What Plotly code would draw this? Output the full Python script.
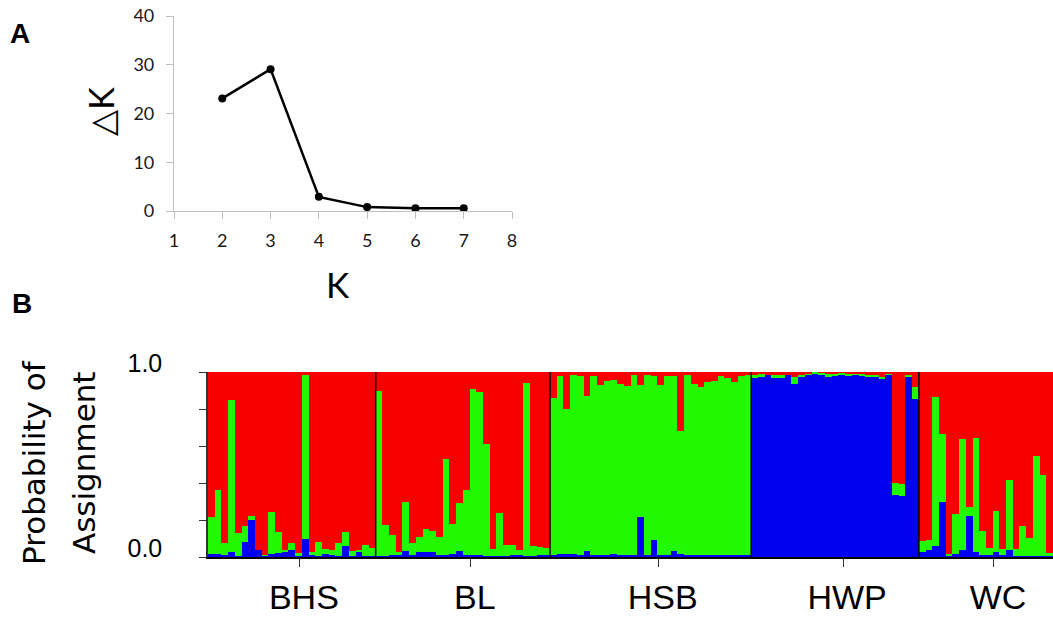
import plotly.graph_objects as go

# ---------------- Panel A data ----------------
k_values = [2, 3, 4, 5, 6, 7]
delta_k = [23.1, 29.1, 2.9, 0.8, 0.55, 0.55]

# ---------------- Panel B data ----------------
populations = ["BHS", "BL", "HSB", "HWP", "WC"]

bhs_blue = [0.018, 0.015, 0.013, 0.025, 0.005, 0.08, 0.20, 0.036, 0.01, 0.018, 0.02, 0.025, 0.04,
            0.01, 0.10, 0.01, 0.007, 0.014, 0.01, 0.007, 0.058, 0.004, 0.03, 0.004, 0.005]
bhs_green = [0.20, 0.345, 0.063, 0.825, 0.125, 0.086, 0.02, 0.0, 0.002, 0.227, 0.117, 0.011, 0.034,
             0.01, 0.885, 0.015, 0.073, 0.029, 0.03, 0.067, 0.079, 0.026, 0.01, 0.063, 0.045]

bl_blue = [0.008, 0.008, 0.01, 0.01, 0.03, 0.01, 0.025, 0.025, 0.025, 0.01, 0.012, 0.015, 0.03,
           0.01, 0.01, 0.01, 0.005, 0.005, 0.005, 0.008, 0.012, 0.01, 0.008, 0.005, 0.012, 0.01]
bl_green = [0.892, 0.167, 0.107, 0.015, 0.27, 0.066, 0.081, 0.125, 0.114, 0.098, 0.518, 0.165, 0.26,
            0.35, 0.90, 0.88, 0.605, 0.038, 0.235, 0.055, 0.055, 0.03, 0.932, 0.053, 0.04, 0.04]

hsb_blue = [0.012, 0.015, 0.015, 0.015, 0.012, 0.03, 0.01, 0.01, 0.012, 0.015, 0.01, 0.012, 0.01,
            0.216, 0.01, 0.094, 0.01, 0.01, 0.03, 0.015, 0.012, 0.01, 0.01, 0.012, 0.01, 0.01,
            0.012, 0.01, 0.01, 0.012]
hsb_green = [0.848, 0.965, 0.785, 0.97, 0.968, 0.84, 0.97, 0.92, 0.938, 0.94, 0.927, 0.911, 0.972,
             0.714, 0.975, 0.883, 0.92, 0.967, 0.947, 0.665, 0.97, 0.927, 0.91, 0.932, 0.943, 0.97,
             0.958, 0.934, 0.97, 0.973]

hwp_blue = [0.965, 0.975, 0.985, 0.965, 0.965, 0.985, 0.935, 0.975, 0.985, 0.99, 0.985, 0.975, 0.98,
            0.985, 0.98, 0.985, 0.98, 0.975, 0.975, 0.96, 0.985, 0.337, 0.328, 0.975, 0.854]
hwp_green = [0.02, 0.015, 0.0, 0.02, 0.02, 0.0, 0.04, 0.01, 0.005, 0.01, 0.01, 0.015, 0.01,
             0.01, 0.01, 0.005, 0.01, 0.01, 0.01, 0.015, 0.005, 0.063, 0.068, 0.01, 0.065]

wc_blue = [0.025, 0.036, 0.061, 0.295, 0.01, 0.018, 0.04, 0.223, 0.025, 0.012, 0.012, 0.025, 0.012,
           0.04, 0.007, 0.007, 0.007, 0.007, 0.007, 0.007]
wc_green = [0.063, 0.058, 0.804, 0.372, 0.008, 0.212, 0.598, 0.047, 0.618, 0.127, 0.035, 0.225, 0.031,
            0.374, 0.036, 0.159, 0.096, 0.537, 0.438, 0.013]

blue_by_pop = [bhs_blue, bl_blue, hsb_blue, hwp_blue, wc_blue]
green_by_pop = [bhs_green, bl_green, hsb_green, hwp_green, wc_green]

blue = [v for lst in blue_by_pop for v in lst]
green = [v for lst in green_by_pop for v in lst]
red = [round(max(0.0, 1 - b - g), 4) for b, g in zip(blue, green)]
idx = list(range(len(blue)))

sizes = [len(l) for l in blue_by_pop]
starts = []
s = 0
for n in sizes:
    starts.append(s)
    s += n
TICK_OFFSET = 1.2  # ticks sit slightly right of each group's centre in the original
tick_pos = [st + n / 2 - 0.5 + TICK_OFFSET for st, n in zip(starts, sizes)]
bounds = [st - 0.5 for st in starts[1:]]

W, H = 1053, 617
RED, GREEN, BLUE = "#f80000", "#22f800", "#0000ee"

fig = go.Figure()

# Panel A
fig.add_trace(go.Scatter(x=k_values, y=delta_k, mode="lines+markers",
                         line=dict(color="black", width=2.5),
                         marker=dict(color="black", size=8),
                         xaxis="x", yaxis="y", showlegend=False))

# Panel B stacked bars
for vals, col in [(blue, BLUE), (green, GREEN), (red, RED)]:
    fig.add_trace(go.Bar(x=idx, y=vals, marker=dict(color=col, line=dict(width=0)),
                         xaxis="x2", yaxis="y2", showlegend=False))

def px(x):
    return x / W

def py(y):
    return 1 - y / H

shapes = []
for b in bounds:
    shapes.append(dict(type="line", xref="x2", yref="y2", x0=b, x1=b, y0=0, y1=1,
                       line=dict(color="black", width=1.5)))

annotations = [
    dict(text="<b>A</b>", x=px(20), y=py(33), font=dict(size=28, family="Liberation Sans", color="black")),
    dict(text="<b>B</b>", x=px(22), y=py(303), font=dict(size=28, family="Liberation Sans", color="black")),
    dict(text="△K", x=px(100), y=py(112), textangle=-90,
         font=dict(size=34, family="Lato, DejaVu Sans", color="black")),
    dict(text="K", x=px(338), y=py(284), font=dict(size=35, family="Lato", color="black")),
    dict(text="Probability of", x=px(34), y=py(463), textangle=-90,
         font=dict(size=31, family="DejaVu Sans", color="black")),
    dict(text="Assignment", x=px(84), y=py(463), textangle=-90,
         font=dict(size=31, family="DejaVu Sans", color="black")),
]
for a in annotations:
    a.update(xref="paper", yref="paper", showarrow=False, xanchor="center", yanchor="middle")

common = dict(showgrid=False, zeroline=False, automargin=False)

fig.update_layout(
    width=W, height=H,
    margin=dict(l=0, r=0, t=0, b=0, autoexpand=False),
    paper_bgcolor="white", plot_bgcolor="white",
    font=dict(family="Liberation Sans, Arial", color="black"),
    barmode="stack", bargap=0,
    xaxis=dict(domain=[px(174), px(512)], range=[1, 8], tickvals=list(range(1, 9)),
               showline=True, linecolor="#bfbfbf", linewidth=1.2,
               ticks="outside", ticklen=7, tickcolor="#bfbfbf", tickwidth=1.2, anchor="y",
               tickfont=dict(family="Lato", size=18, color="#1a1a1a"), ticklabelstandoff=6, **common),
    yaxis=dict(domain=[py(211), py(16)], range=[0, 40], tickvals=[0, 10, 20, 30, 40],
               showline=True, linecolor="#bfbfbf", linewidth=1.2,
               ticks="outside", ticklen=7, tickcolor="#bfbfbf", tickwidth=1.2, anchor="x",
               tickfont=dict(family="Lato", size=18, color="#1a1a1a"), ticklabelstandoff=8, **common),
    xaxis2=dict(domain=[px(208), 1.0], range=[-0.5, len(idx) - 0.5],
                tickvals=tick_pos, ticktext=populations,
                showline=True, linecolor="black", linewidth=1.5,
                ticks="outside", ticklen=8, tickcolor="#333", tickwidth=1.2, anchor="y2",
                tickfont=dict(family="Liberation Sans", size=34, color="black"),
                ticklabelstandoff=1, ticklabelshift=4, **common),
    yaxis2=dict(domain=[py(557), py(372)], range=[0, 1],
                tickvals=[0, 0.2, 0.4, 0.6, 0.8, 1.0], ticktext=["0.0", "", "", "", "", "1.0"],
                showline=True, linecolor="#333", linewidth=1.5,
                ticks="outside", ticklen=7, tickcolor="#333", tickwidth=1.2, anchor="x2",
                tickfont=dict(family="Liberation Sans", size=25, color="black"),
                ticklabelstandoff=32, ticklabelshift=-9, **common),
    shapes=shapes,
    annotations=annotations,
)

fig.write_html("out.html")
